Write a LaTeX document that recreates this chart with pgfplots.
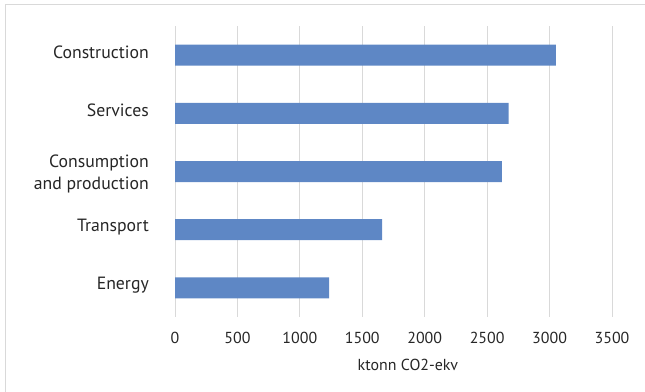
\documentclass[border=0pt]{standalone}
\usepackage{pgfplots}
\pgfplotsset{compat=1.18}
\usepackage{fontspec}
\setmainfont{PT Sans}
\definecolor{barblue}{HTML}{5E87C5}
\definecolor{gridgray}{HTML}{D9D9D9}
\newcommand{\lblfont}{\fontsize{16}{21.5}\selectfont}
\newcommand{\catfont}{\fontsize{17.8}{21.8}\selectfont}
\begin{document}
\begin{tikzpicture}
\path[use as bounding box] (0,0) rectangle (645bp,392bp);
\draw[gridgray, line width=1bp] (5bp,0) -- (5bp,387bp) -- (645bp,387bp);
\begin{axis}[
  at={(175bp,75bp)}, anchor=south west,
  width=437bp, height=291bp, scale only axis,
  xmin=0, xmax=3500, ymin=-0.5, ymax=4.5,
  xbar, bar width=21bp, bar shift=0pt,
  axis line style={draw=none},
  xtick={0,500,...,3500},
  ytick={0,1,2,3,4},
  yticklabels={Energy,Transport,{\rule{0pt}{23bp}Consumption\\and production},Services,Construction},
  major tick length=0pt,
  scaled x ticks=false,
  /pgf/number format/1000 sep={},
  /pgf/number format/assume math mode=true,
  yticklabel style={align=right, anchor=east, inner sep=0pt, font=\catfont, xshift=-26bp, yshift=3bp, text=black!85},
  xticklabel style={anchor=north, inner sep=0pt, font=\lblfont, yshift=-15bp, text=black!85},
  xlabel={ktonn CO2-ekv},
  xlabel style={at={(axis description cs:0.533,0)}, anchor=center, inner sep=0pt, yshift=-48bp, font=\lblfont, text=black!85},
  xmajorgrids, grid style={gridgray, line width=1bp},
]
\addplot[fill=barblue, draw=none] coordinates {(1234,0) (1659,1) (2618,2) (2673,3) (3051,4)};
\end{axis}
\end{tikzpicture}
\end{document}
